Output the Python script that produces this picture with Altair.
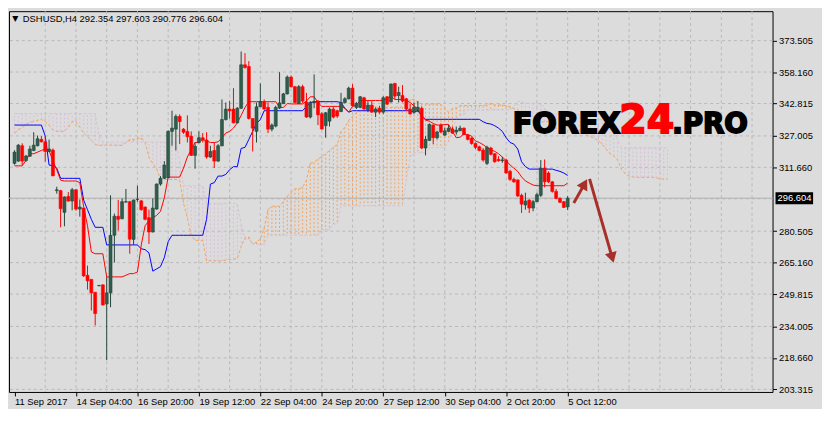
import altair as alt
import pandas as pd

# ---------------- data ----------------
OPEN = [
    313.6, 314.7, 322.2, 315.0, 317.1, 319.9, 322.2, 325.3, 324.1, 319.4,
    320.1, 300.3, 300.3, 289.7, 297.5, 295.2, 300.7, 291.3, 291.8, 259.0,
    257.0, 250.7, 253.9, 254.3, 245.0, 250.4, 278.5, 287.8, 286.6, 294.7,
    294.9, 276.5, 296.0, 295.3, 292.3, 287.1, 280.1, 291.3, 303.5, 306.3,
    306.6, 329.2, 330.3, 336.5, 330.3, 329.2, 326.9, 317.5, 323.8, 326.1,
    325.0, 316.7, 319.9, 314.7, 322.2, 335.0, 340.1, 340.1, 333.4, 340.5,
    361.7, 360.9, 335.5, 329.2, 341.2, 343.7, 340.9, 330.3, 331.8, 340.6,
    342.8, 347.5, 355.7, 351.0, 342.8, 351.0, 343.6, 336.2, 343.3, 344.0,
    337.8, 332.0, 334.2, 340.1, 339.3, 338.9, 343.3, 345.1, 350.3, 340.9,
    340.9, 345.6, 339.8, 342.0, 338.6, 340.5, 338.6, 346.1, 343.6, 352.6,
    346.7, 346.7, 345.1, 340.1, 338.6, 339.3, 340.5, 321.1, 324.8, 332.3,
    326.1, 332.3, 327.4, 329.2, 330.4, 328.9, 329.5, 330.8, 327.4, 325.8,
    323.3, 321.7, 320.1, 313.6, 321.1, 318.3, 315.5, 314.9, 315.2, 309.7,
    305.8, 305.5, 298.0, 293.3, 295.7, 291.8, 294.9, 298.0, 311.3, 308.9,
    304.6, 299.9, 296.5, 294.9, 292.354,
]
HIGH = [
    320.0, 323.0, 323.4, 317.7, 322.2, 328.8, 327.2, 326.9, 326.9, 325.2,
    320.9, 302.2, 300.7, 297.5, 299.6, 301.6, 301.1, 296.0, 291.9, 263.7,
    257.0, 250.7, 254.3, 254.6, 258.2, 298.0, 289.1, 295.7, 296.5, 301.1,
    295.3, 296.0, 302.7, 295.7, 292.5, 291.0, 296.5, 303.8, 307.4, 314.7,
    329.7, 339.3, 337.5, 337.5, 330.8, 337.0, 329.2, 323.8, 329.2, 328.4,
    328.8, 322.2, 323.8, 323.0, 344.8, 343.3, 344.0, 350.3, 341.1, 368.2,
    367.4, 363.5, 335.5, 343.3, 352.6, 344.8, 343.3, 333.1, 341.7, 358.1,
    348.0, 356.5, 356.5, 351.4, 351.8, 352.0, 348.0, 344.0, 357.0, 344.5,
    338.6, 338.6, 340.9, 341.4, 339.8, 348.0, 345.9, 351.0, 352.3, 343.6,
    346.4, 346.1, 344.0, 344.0, 340.9, 341.7, 346.4, 346.4, 352.6, 352.9,
    351.0, 351.8, 345.6, 342.5, 343.3, 344.0, 341.4, 326.9, 333.1, 332.6,
    329.5, 333.1, 331.1, 332.3, 331.6, 331.6, 332.0, 331.1, 328.0, 326.4,
    323.8, 322.2, 321.1, 322.2, 321.7, 318.6, 317.1, 316.7, 315.9, 310.5,
    306.6, 305.8, 298.8, 299.3, 296.1, 295.7, 299.3, 315.2, 315.5, 309.7,
    305.0, 301.1, 297.1, 295.2, 297.603,
]
LOW = [
    313.0, 314.4, 312.8, 314.4, 316.7, 319.5, 321.9, 323.8, 314.4, 319.1,
    307.4, 298.8, 282.4, 282.9, 294.9, 290.7, 290.5, 287.6, 258.2, 252.0,
    241.8, 234.5, 253.6, 244.2, 217.6, 243.4, 265.2, 280.8, 286.3, 294.4,
    269.5, 273.8, 294.9, 290.5, 285.8, 274.3, 279.9, 291.0, 302.7, 306.0,
    306.4, 322.2, 319.9, 323.0, 328.0, 323.8, 317.2, 311.0, 323.3, 323.8,
    315.9, 316.3, 311.3, 314.4, 321.9, 334.5, 335.5, 333.1, 333.1, 340.1,
    359.8, 335.0, 319.4, 323.8, 341.1, 339.7, 328.4, 329.2, 331.2, 340.1,
    342.5, 347.2, 350.6, 342.9, 342.5, 343.0, 335.8, 335.5, 340.5, 332.3,
    330.0, 326.1, 331.6, 335.5, 335.8, 338.6, 342.8, 344.8, 341.4, 340.1,
    340.5, 339.8, 338.6, 338.3, 336.2, 337.8, 337.8, 342.0, 343.3, 344.8,
    343.3, 343.3, 339.3, 337.3, 337.8, 338.6, 320.6, 317.5, 324.7, 323.0,
    325.3, 328.4, 327.0, 328.9, 328.0, 327.6, 329.4, 327.4, 324.8, 322.7,
    320.6, 319.5, 314.4, 312.8, 317.5, 313.9, 314.4, 313.9, 308.6, 305.0,
    304.1, 297.2, 289.4, 291.0, 289.4, 290.2, 294.7, 297.2, 301.9, 304.0,
    299.3, 296.1, 294.3, 291.8, 290.776,
]
CLOSE = [
    319.1, 322.5, 314.7, 317.2, 320.6, 322.5, 325.6, 324.1, 319.4, 320.6,
    307.5, 300.7, 291.5, 297.2, 295.2, 300.7, 291.3, 292.3, 258.7, 256.3,
    250.4, 240.3, 254.0, 244.5, 250.4, 278.5, 287.8, 286.3, 294.9, 294.9,
    276.6, 295.7, 296.1, 291.0, 286.3, 280.1, 291.8, 303.5, 306.3, 312.8,
    329.2, 330.8, 336.5, 334.0, 328.8, 326.6, 317.5, 321.9, 326.1, 325.0,
    316.7, 319.4, 314.7, 322.2, 335.0, 340.1, 339.2, 333.4, 340.5, 361.7,
    360.4, 335.5, 330.8, 341.2, 343.7, 340.1, 330.3, 332.3, 340.9, 343.1,
    347.5, 355.7, 351.0, 343.3, 351.0, 344.0, 336.2, 343.3, 343.6, 337.3,
    330.4, 338.3, 340.1, 336.2, 336.7, 343.3, 345.1, 350.3, 341.7, 342.8,
    346.1, 340.1, 342.0, 338.6, 340.1, 338.6, 345.6, 342.5, 352.3, 346.4,
    348.2, 344.0, 340.1, 337.8, 340.9, 340.9, 321.1, 325.3, 332.6, 326.1,
    328.9, 328.9, 329.5, 330.8, 328.4, 329.8, 330.8, 327.6, 325.3, 323.3,
    321.4, 319.9, 315.2, 321.4, 318.0, 314.4, 314.9, 315.3, 308.9, 305.8,
    304.6, 297.7, 293.7, 295.2, 291.8, 294.9, 298.3, 311.3, 304.6, 304.6,
    299.9, 296.5, 294.6, 292.1, 296.604,
]
TENKAN = [
    312.4, 312.4, 312.4, 315.2, 318.3, 318.3, 319.1, 319.9, 320.6, 319.9,
    314.7, 310.5, 305.4, 305.0, 305.0, 305.0, 305.0, 304.2, 292.5, 283.2,
    270.4, 269.5, 269.5, 269.5, 258.2, 258.2, 258.2, 258.2, 258.2, 259.0,
    259.8, 259.8, 260.6, 273.8, 283.2, 285.5, 287.1, 288.2, 290.2, 296.8,
    306.9, 306.9, 306.9, 306.9, 311.3, 316.7, 320.3, 323.8, 323.8, 325.3,
    324.5, 323.8, 323.8, 324.1, 326.1, 328.4, 329.2, 330.8, 333.4, 337.0,
    340.9, 343.7, 343.7, 343.7, 343.7, 343.7, 343.7, 343.7, 343.7, 340.9,
    340.9, 342.8, 342.6, 342.6, 342.6, 342.6, 344.0, 346.1, 346.1, 343.3,
    341.4, 341.4, 341.4, 341.4, 341.4, 341.4, 340.5, 338.6, 341.4, 342.0,
    344.3, 344.3, 344.3, 344.3, 344.3, 344.3, 344.3, 345.1, 346.4, 344.8,
    344.8, 344.8, 344.3, 343.3, 341.7, 340.1, 337.0, 334.7, 334.2, 333.1,
    332.3, 332.3, 332.6, 332.6, 329.2, 326.1, 326.4, 328.0, 327.6, 326.9,
    324.5, 323.8, 322.7, 321.4, 320.1, 319.5, 318.3, 316.7, 314.9, 312.8,
    311.3, 309.7, 307.0, 305.0, 304.0, 303.0, 302.7, 302.7, 302.7, 302.7,
    302.7, 302.7, 302.7, 302.7, 304.0,
]
KIJUN = [
    332.3, 332.3, 332.3, 332.3, 332.3, 332.3, 332.3, 332.3, 326.9, 312.8,
    312.4, 311.3, 306.3, 306.3, 306.3, 306.3, 306.3, 306.3, 295.7, 291.0,
    286.3, 282.4, 282.4, 282.4, 273.8, 273.8, 273.8, 273.8, 273.8, 273.8,
    273.8, 273.8, 273.8, 271.9, 271.5, 269.9, 261.0, 262.1, 263.2, 267.6,
    275.4, 278.5, 278.5, 278.5, 278.5, 278.5, 278.5, 278.5, 278.5, 278.5,
    286.3, 303.5, 304.2, 307.4, 307.4, 308.2, 310.5, 312.0, 312.0, 320.9,
    321.4, 325.3, 329.2, 333.1, 335.0, 339.3, 339.3, 339.3, 339.3, 339.3,
    339.3, 339.3, 339.3, 339.3, 339.3, 339.3, 341.4, 343.3, 343.7, 343.7,
    343.7, 343.7, 343.7, 343.7, 343.7, 343.3, 340.5, 338.6, 339.3, 339.3,
    339.3, 339.3, 339.3, 339.3, 339.3, 339.3, 339.3, 339.3, 339.3, 339.3,
    339.3, 339.3, 339.3, 339.3, 338.6, 339.3, 336.8, 335.1, 335.1, 335.1,
    335.1, 335.1, 335.1, 335.1, 335.1, 335.1, 335.1, 335.1, 335.1, 335.1,
    335.1, 335.1, 333.9, 333.1, 332.8, 332.0, 330.8, 329.2, 326.1, 323.8,
    323.0, 320.6, 314.4, 312.0, 310.8, 310.8, 310.8, 310.8, 310.8, 310.8,
    310.8, 310.2, 309.7, 308.9, 307.7,
]
# Senkou spans, drawn at bars 0..170 (26 bars beyond the last candle)
SPAN_A = [
    328.4, 329.8, 331.2, 332.6, 333.6, 334.0, 334.5, 335.0, 334.0, 332.2,
    329.8, 329.2, 329.2, 329.2, 331.2, 333.9, 333.9, 331.2, 328.4, 326.6,
    324.7, 322.8, 322.3, 322.5, 322.5, 322.5, 322.4, 322.4, 322.4, 323.8,
    325.3, 325.3, 325.7, 326.1, 323.8, 316.4, 313.6, 310.9, 305.9, 305.7,
    305.7, 305.7, 305.7, 305.3, 294.1, 287.1, 278.4, 276.0, 276.0, 276.0,
    266.0, 266.0, 266.0, 266.0, 266.0, 266.4, 266.8, 266.8, 267.2, 272.9,
    277.4, 277.7, 274.1, 275.2, 276.7, 282.2, 291.2, 292.7, 292.7, 292.7,
    294.9, 297.6, 299.4, 301.2, 301.2, 301.9, 305.4, 313.7, 314.0, 315.8,
    316.8, 318.3, 319.9, 321.4, 322.7, 329.0, 331.2, 334.5, 336.5, 338.4,
    339.4, 341.5, 341.5, 341.5, 341.5, 340.1, 340.1, 341.1, 341.0, 341.0,
    341.0, 341.0, 342.7, 344.7, 344.9, 343.5, 342.6, 342.6, 342.6, 342.6,
    342.6, 342.4, 340.5, 338.6, 340.4, 340.7, 341.8, 341.8, 341.8, 341.8,
    341.8, 341.8, 341.8, 342.2, 342.9, 342.1, 342.1, 342.1, 341.8, 341.3,
    340.2, 339.7, 336.9, 334.9, 334.7, 334.1, 333.7, 333.7, 333.9, 333.9,
    332.2, 330.6, 330.8, 331.6, 331.4, 331.0, 329.8, 329.5, 328.3, 327.3,
    326.5, 325.8, 324.6, 323.0, 320.5, 318.3, 317.2, 315.2, 310.7, 308.5,
    307.4, 306.9, 306.8, 306.8, 306.8, 306.8, 306.8, 306.5, 306.2, 305.8,
    305.9,
]
SPAN_B = [
    337.9, 337.9, 337.9, 337.9, 337.9, 337.9, 337.9, 337.9, 337.9, 337.9,
    337.9, 337.9, 337.9, 337.9, 337.9, 337.9, 337.9, 337.9, 337.9, 337.9,
    337.9, 337.9, 326.9, 324.0, 324.0, 324.0, 324.0, 324.0, 324.0, 324.0,
    324.0, 324.0, 324.0, 324.0, 324.0, 324.0, 324.0, 324.0, 324.0, 324.0,
    324.0, 324.0, 324.0, 314.4, 302.7, 302.7, 302.7, 302.7, 302.7, 302.7,
    294.1, 294.1, 294.1, 294.1, 294.1, 294.1, 294.1, 294.1, 294.1, 284.0,
    276.5, 276.5, 274.1, 274.1, 274.1, 274.1, 278.5, 278.5, 278.5, 278.5,
    278.5, 278.5, 278.5, 278.5, 278.5, 278.5, 278.5, 278.5, 278.5, 278.5,
    281.2, 281.2, 281.2, 284.0, 284.0, 292.9, 292.9, 292.9, 292.9, 292.9,
    292.9, 292.9, 292.9, 292.9, 292.9, 292.9, 292.9, 292.9, 292.9, 292.9,
    292.9, 292.9, 305.8, 316.7, 318.8, 318.8, 318.8, 318.8, 321.0, 321.3,
    321.3, 321.3, 321.3, 324.1, 329.6, 335.5, 337.1, 337.3, 339.6, 339.6,
    339.6, 339.6, 339.6, 339.6, 339.6, 339.7, 339.7, 339.7, 339.7, 339.7,
    341.3, 343.8, 343.8, 342.9, 342.9, 342.9, 342.9, 342.5, 340.5, 337.8,
    337.8, 337.8, 337.8, 337.8, 337.8, 337.8, 337.8, 337.3, 335.7, 334.9,
    334.9, 334.9, 334.9, 334.9, 332.8, 331.0, 328.5, 325.1, 321.2, 321.2,
    321.2, 321.2, 321.2, 321.2, 321.2, 321.2, 321.2, 321.2, 321.2, 321.2,
    321.2,
]

X_LABEL_BARS = [0, 16, 32, 48, 64, 80, 96, 112, 128, 144]
X_LABELS = ["11 Sep 2017", "14 Sep 04:00", "16 Sep 20:00", "19 Sep 12:00",
            "22 Sep 04:00", "24 Sep 20:00", "27 Sep 12:00", "30 Sep 04:00",
            "2 Oct 20:00", "5 Oct 12:00"]
X_GRID_BARS = [8, 16, 24, 32, 40, 48, 56, 64, 72, 80, 88, 96, 104, 112, 120,
               128, 136, 144, 152, 160, 168, 176, 184, 192]
Y_TICKS = [373.505, 358.160, 342.815, 327.005, 311.660, 280.505, 265.160,
           249.815, 234.005, 218.660, 203.315]
Y_GRID = [373.505, 358.160, 342.815, 327.005, 311.660, 296.315, 280.505,
          265.160, 249.815, 234.005, 218.660, 203.315]
LAST_PRICE = 296.604
HEADER = "DSHUSD,H4  292.354 297.603 290.776 296.604"

LOGO_TEXT = ["FOREX", "24", ".PRO"]
LOGO_BAR = [129.7, 157.4, 171.2]
LOGO_PRICE = [328.4, 328.4, 328.4]

ARROW_X = [145.6, 149.7]
ARROW_Y = [294.3, 306.0]
ARROW_X2 = [148.4, 155.6]
ARROW_Y2 = [303.6, 267.6]
ARROW_ANGLE = [29, 164]

# ---------------- styling ----------------
W, H = 772, 385
BG = "#dcdcdc"
GRID = "#b9b9b9"
UP = "#2f5e4c"
UP_EDGE = "#22453a"
DOWN = "#ff0000"
SANDY = "#f4a460"
THISTLE = "#d8bfd8"
ARROW = "#a8302a"
FONT = "Liberation Sans"

SX = alt.Scale(domain=[-0.15, 196.05], nice=False, zero=False)
SY = alt.Scale(domain=[202.04, 387.87], nice=False, zero=False)
label_arr = "[" + ",".join("'%s'" % s for s in X_LABELS) + "]"
AX = alt.Axis(values=X_LABEL_BARS, labelExpr=label_arr + "[round(datum.value / 16)]",
              title=None, grid=False, domain=False, ticks=True, tickSize=4,
              tickColor="black", labelAlign="left", labelBaseline="top",
              labelPadding=1, labelFont=FONT, labelFontSize=9.5,
              labelColor="black", labelOverlap=False, labelFlush=False)
AY = alt.Axis(values=Y_TICKS, format=".3f", orient="right", title=None,
              grid=False, domain=False, tickSize=4, tickColor="black",
              labelPadding=2, labelFont=FONT, labelFontSize=9.5,
              labelColor="black", labelOverlap=False, labelFlush=False)


def X(f):
    return alt.X(f, type="quantitative", scale=SX, axis=AX)


def Y(f):
    return alt.Y(f, type="quantitative", scale=SY, axis=AY)


candles = pd.DataFrame({"i": list(range(len(OPEN))), "o": OPEN, "h": HIGH,
                        "l": LOW, "c": CLOSE})
up = candles[candles["c"] >= candles["o"]]
down = candles[candles["c"] < candles["o"]]
lines = pd.DataFrame({"i": list(range(len(TENKAN))), "t": TENKAN, "k": KIJUN})
cloud = pd.DataFrame({"j": list(range(len(SPAN_A))), "a": SPAN_A, "b": SPAN_B})
cloud_a = cloud[cloud["a"] >= cloud["b"]]
cloud_b = cloud[cloud["a"] < cloud["b"]]

xgrid = alt.Chart(pd.DataFrame({"g": X_GRID_BARS})).mark_rule(
    color=GRID, strokeDash=[3, 3], strokeWidth=1).encode(x=X("g"))
ygrid = alt.Chart(pd.DataFrame({"p": Y_GRID})).mark_rule(
    color=GRID, strokeDash=[3, 3], strokeWidth=1).encode(y=Y("p"))

hatch_a = alt.Chart(cloud_a).mark_rule(strokeDash=[2, 2], strokeWidth=1, color=SANDY).encode(
    x=X("j"), y=Y("a"), y2=alt.Y2("b"))
hatch_b = alt.Chart(cloud_b).mark_rule(strokeDash=[2, 2], strokeWidth=1, color=THISTLE).encode(
    x=X("j"), y=Y("a"), y2=alt.Y2("b"))
span_a = alt.Chart(cloud).mark_line(color=SANDY, strokeDash=[3, 2], strokeWidth=1).encode(x=X("j"), y=Y("a"))
span_b = alt.Chart(cloud).mark_line(color=THISTLE, strokeDash=[3, 2], strokeWidth=1).encode(x=X("j"), y=Y("b"))

bid = alt.Chart(pd.DataFrame({"p": [LAST_PRICE]})).mark_rule(color="#b0b0b0", strokeWidth=1).encode(y=Y("p"))

kijun = alt.Chart(lines).mark_line(color="#0000ff", strokeWidth=1).encode(x=X("i"), y=Y("k"))
tenkan = alt.Chart(lines).mark_line(color="#ff0000", strokeWidth=1).encode(x=X("i"), y=Y("t"))

wick_up = alt.Chart(up).mark_rule(strokeWidth=1, color=UP_EDGE).encode(x=X("i"), y=Y("l"), y2=alt.Y2("h"))
wick_dn = alt.Chart(down).mark_rule(strokeWidth=1, color=DOWN).encode(x=X("i"), y=Y("l"), y2=alt.Y2("h"))
body_up = alt.Chart(up).mark_bar(width=3, fill=UP, stroke=UP_EDGE, strokeWidth=0.6, opacity=1).encode(
    x=X("i"), y=Y("o"), y2=alt.Y2("c"))
body_dn = alt.Chart(down).mark_bar(width=3, fill=DOWN, stroke=DOWN, strokeWidth=0.6, opacity=1).encode(
    x=X("i"), y=Y("o"), y2=alt.Y2("c"))

logo_df = pd.DataFrame({"x": LOGO_BAR, "y": LOGO_PRICE, "t": LOGO_TEXT})
logo1 = alt.Chart(logo_df.iloc[[0]]).mark_text(
    align="left", baseline="alphabetic", font="DejaVu Sans", fontWeight="bold",
    fontSize=29, color="black", stroke="black", strokeWidth=1.8).encode(x=X("x"), y=Y("y"), text="t:N")
logo2 = alt.Chart(logo_df.iloc[[1]]).mark_text(
    align="left", baseline="alphabetic", font="DejaVu Sans", fontWeight="bold",
    fontSize=40, color="#ff0000", stroke="#ff0000", strokeWidth=1.8).encode(x=X("x"), y=Y("y"), text="t:N")
logo3 = alt.Chart(logo_df.iloc[[2]]).mark_text(
    align="left", baseline="alphabetic", font="DejaVu Sans", fontWeight="bold",
    fontSize=28, color="black", stroke="black", strokeWidth=1.8).encode(x=X("x"), y=Y("y"), text="t:N")

arrows = pd.DataFrame({"x": ARROW_X, "y": ARROW_Y, "x2": ARROW_X2, "y2": ARROW_Y2, "ang": ARROW_ANGLE})
shafts = alt.Chart(arrows).mark_rule(color=ARROW, strokeWidth=3).encode(
    x=X("x"), y=Y("y"), x2=alt.X2("x2"), y2=alt.Y2("y2"))
heads = alt.Chart(arrows).mark_point(shape="triangle-up", filled=True, size=150,
                                     color=ARROW, opacity=1).encode(
    x=X("x2"), y=Y("y2"), angle=alt.Angle("ang:Q", scale=None))

one = pd.DataFrame({"p": [LAST_PRICE]})
tri = alt.Chart(one).mark_text(text="▼", font="DejaVu Sans", fontSize=8, color="black",
                               align="center", baseline="middle").encode(
    x=alt.value(6.5), y=alt.value(7.5))
head_txt = alt.Chart(one).mark_text(text=HEADER, font=FONT, fontSize=9.5, color="black",
                                    align="left", baseline="middle").encode(
    x=alt.value(14), y=alt.value(7.5))
price_box = alt.Chart(one).mark_rule(color="black", strokeWidth=12, strokeCap="butt").encode(
    x=alt.value(W + 3), x2=alt.value(W + 41), y=Y("p"))
price_txt = alt.Chart(pd.DataFrame({"p": [LAST_PRICE], "t": ["296.604"]})).mark_text(
    font=FONT, fontSize=9.5, color="white", align="left", baseline="middle").encode(
    x=alt.value(W + 5), y=Y("p"), text="t:N")

chart = alt.layer(
    xgrid, ygrid, hatch_a, hatch_b, span_a, span_b, bid, kijun, tenkan,
    wick_up, wick_dn, body_up, body_dn,
    logo1, logo2, logo3, shafts, heads, tri, head_txt, price_box, price_txt,
).properties(
    width=W, height=H, background=BG,
    padding={"left": 0, "top": 0, "right": 3, "bottom": 0},
).configure_view(stroke="black", strokeWidth=1)

chart.save("out.html", embed_options={"renderer": "svg", "actions": False})
